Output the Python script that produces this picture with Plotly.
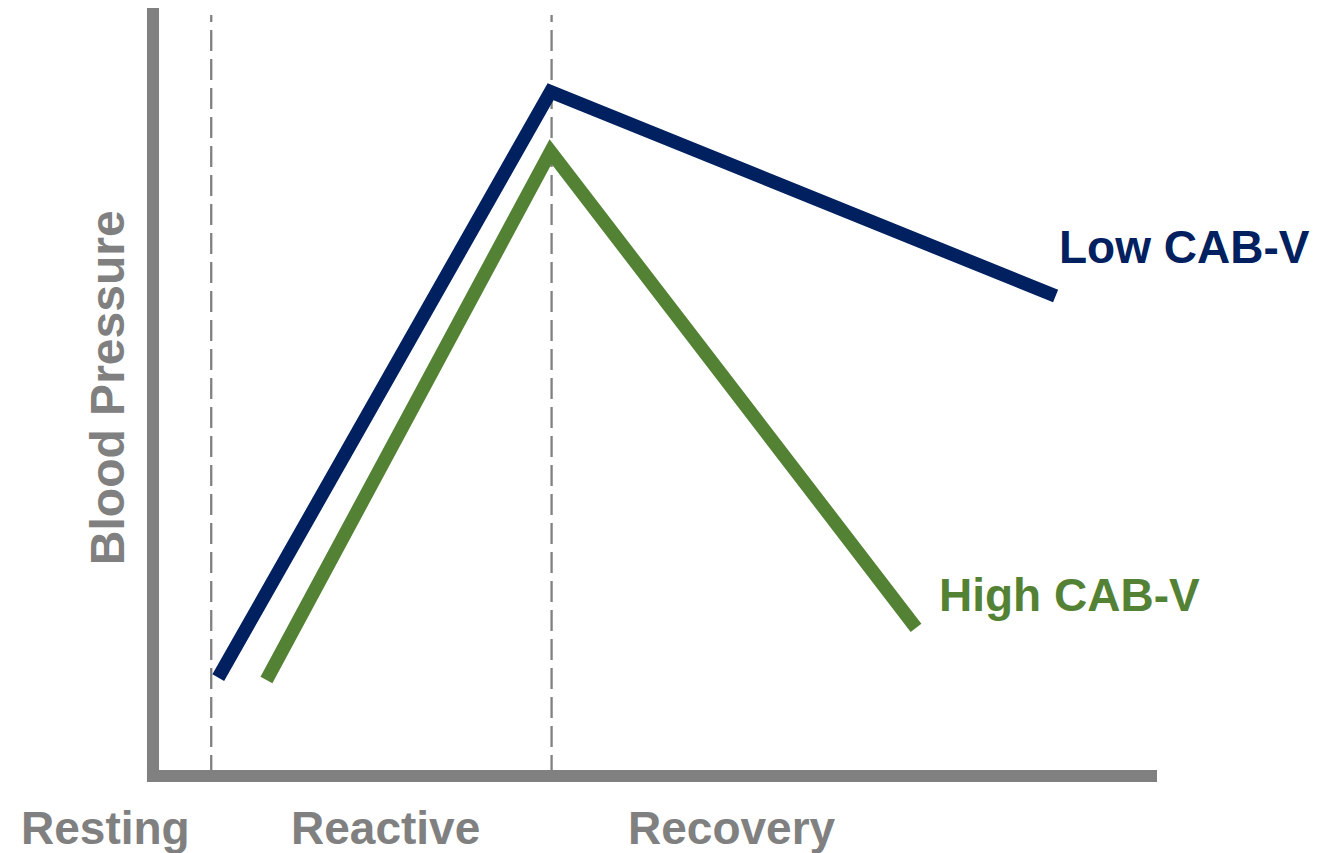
import plotly.graph_objects as go

# Phases of the stress protocol and where the phase boundaries fall in time
phase_labels = ["Resting", "Reactive", "Recovery"]
phase_bounds = [5.8, 39.7]

# Blood pressure profiles (arbitrary units) across the protocol
low_x = [6.5, 39.6, 89.9]
low_y = [12.8, 89.1, 62.5]
high_x = [11.3, 39.6, 76.0]
high_y = [12.5, 81.3, 19.3]

series_names = ["Low CAB-V", "High CAB-V"]

NAVY = "#002060"
GREEN = "#548235"
GRAY = "#808080"
FONT = "Liberation Sans, Arial, sans-serif"

fig = go.Figure()
fig.add_trace(go.Scatter(x=low_x, y=low_y, mode="lines",
                         line=dict(color=NAVY, width=13.5), name=series_names[0]))
fig.add_trace(go.Scatter(x=high_x, y=high_y, mode="lines",
                         line=dict(color=GREEN, width=13.5), name=series_names[1]))

shapes = []
# dashed phase boundaries
for bx in phase_bounds:
    shapes.append(dict(type="line", xref="x", yref="paper", x0=bx, x1=bx,
                       y0=0, y1=0.991, layer="below",
                       line=dict(color=GRAY, width=2.3, dash="21px,8px")))
# heavy axis bars
shapes.append(dict(type="rect", xref="paper", yref="paper",
                   x0=-0.006, x1=0.006, y0=-0.0078, y1=1.0,
                   fillcolor=GRAY, line=dict(width=0)))
shapes.append(dict(type="rect", xref="paper", yref="paper",
                   x0=-0.006, x1=1.0, y0=-0.0078, y1=0.0078,
                   fillcolor=GRAY, line=dict(width=0)))

annotations = []
# phase names under the time axis (paper coordinates)
for lab, px in zip(phase_labels, [-0.0478, 0.232, 0.577]):
    annotations.append(dict(text=f"<b>{lab}</b>", x=px, y=-0.0677, xref="paper", yref="paper",
                            showarrow=False, xanchor="center", yanchor="middle",
                            font=dict(family=FONT, size=46, color=GRAY)))
# direct series labels next to the line ends
for name, sx, sy, col in zip(series_names, [90.0, 78.1], [68.9, 23.6], [NAVY, GREEN]):
    annotations.append(dict(text=f"<b>{name}</b>", x=sx, y=sy, xref="x", yref="y",
                            showarrow=False, xanchor="left", yanchor="middle",
                            font=dict(family=FONT, size=46, color=col)))
annotations.append(dict(text="<b>Blood Pressure</b>", x=-0.0458, y=0.505,
                        xref="paper", yref="paper",
                        showarrow=False, textangle=-90, xanchor="center", yanchor="middle",
                        font=dict(family=FONT, size=48, color=GRAY)))

fig.update_layout(
    width=1343, height=853,
    margin=dict(l=153, r=186, t=8, b=77),
    paper_bgcolor="white", plot_bgcolor="white",
    showlegend=False,
    shapes=shapes,
    annotations=annotations,
    xaxis=dict(range=[0, 100], showgrid=False, zeroline=False, showticklabels=False,
               ticks="", showline=False),
    yaxis=dict(range=[0, 100], showgrid=False, zeroline=False, showticklabels=False,
               ticks="", showline=False),
)

fig.write_html("out.html")
